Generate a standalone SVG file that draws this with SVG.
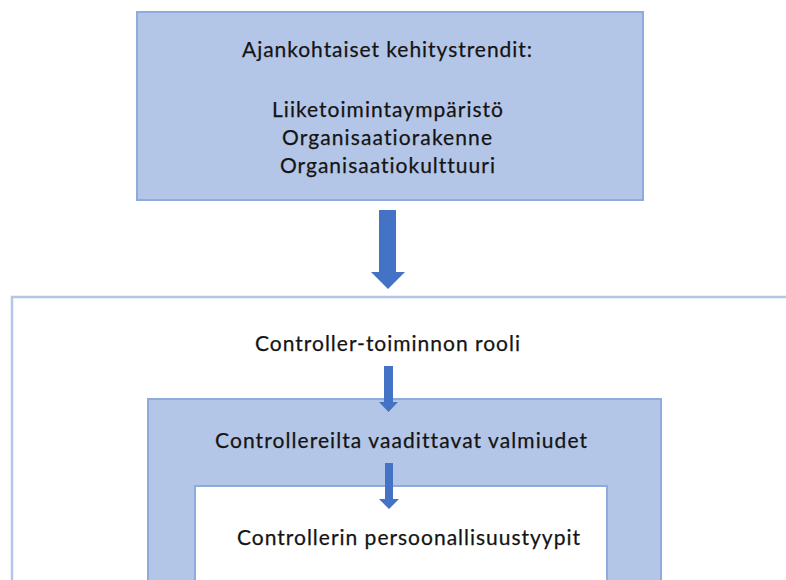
<svg xmlns="http://www.w3.org/2000/svg" width="786" height="580" viewBox="0 0 786 580">
<defs>
<style>
.t{font-family:Lato,"Open Sans","Liberation Sans",sans-serif;font-size:21px;fill:#141414;text-anchor:middle;font-variant-ligatures:none;stroke:#141414;stroke-width:0.25}
.arr{fill:#4472c4}
</style>
</defs>
<rect width="786" height="580" fill="#ffffff"/>
<g id="outer">
<path d="M12,580 V297 H790" fill="none" stroke="#b4c6e7" stroke-width="2.5"/>
<text class="t" x="387.5" y="351" textLength="265" lengthAdjust="spacing">Controller-toiminnon rooli</text>
</g>
<g id="trends">
<rect x="137" y="12" width="506" height="188" fill="#b4c6e7" stroke="#8faadc" stroke-width="2"/>
<text class="t" x="387" y="57" textLength="290" lengthAdjust="spacing">Ajankohtaiset kehitystrendit:</text>
<text class="t" x="387.5" y="117" textLength="231" lengthAdjust="spacing">Liiketoimintaympäristö</text>
<text class="t" x="387" y="145" textLength="210" lengthAdjust="spacing">Organisaatiorakenne</text>
<text class="t" x="387.5" y="173" textLength="215" lengthAdjust="spacing">Organisaatiokulttuuri</text>
</g>
<g id="valmiudet">
<rect x="148" y="399" width="513" height="190" fill="#b4c6e7" stroke="#8faadc" stroke-width="2"/>
<text class="t" x="401" y="448" textLength="372" lengthAdjust="spacing">Controllereilta vaadittavat valmiudet</text>
</g>
<g id="persoonallisuus">
<rect x="195" y="486" width="412" height="100" fill="#ffffff" stroke="#8faadc" stroke-width="2"/>
<text class="t" x="408.5" y="545" textLength="343" lengthAdjust="spacing">Controllerin persoonallisuustyypit</text>
</g>
<g id="connectors">
<polygon class="arr" points="379,210 396,210 396,272 405,272 388,289 371,272 379,272"/>
<polygon class="arr" points="384,366 393,366 393,402 398,402 388.5,412 379,402 384,402"/>
<polygon class="arr" points="385,463 393,463 393,499 399,499 389,509 379,499 385,499"/>
</g>
</svg>
